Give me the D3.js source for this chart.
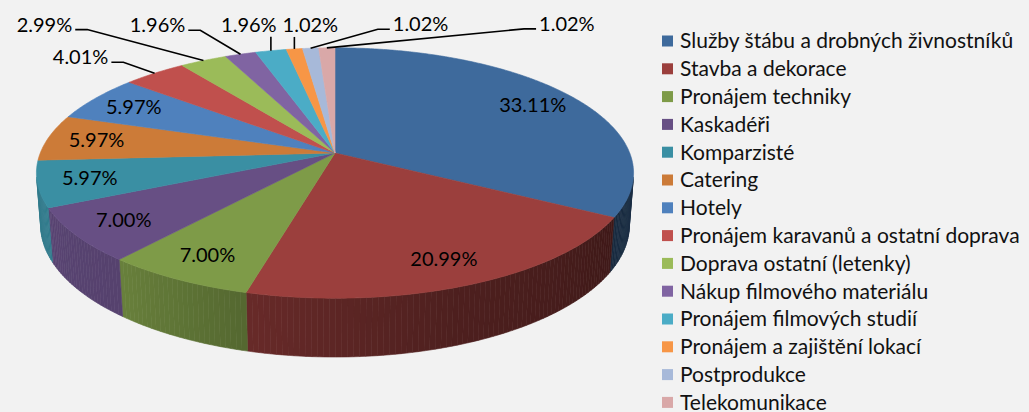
<!DOCTYPE html>
<html lang="cs">
<head>
<meta charset="UTF-8">
<title>3D pie</title>
<script src="https://cdnjs.cloudflare.com/ajax/libs/d3/7.8.5/d3.min.js"></script>
<style>
  body { margin: 0; background: #f2f2f2; }
  svg { display: block; font-family: Lato, 'Open Sans', sans-serif; }
</style>
</head>
<body>
<div id="chart"></div>
<script>
const categories = [
  'Služby štábu a drobných živnostníků',
  'Stavba a dekorace',
  'Pronájem techniky',
  'Kaskadéři',
  'Komparzisté',
  'Catering',
  'Hotely',
  'Pronájem karavanů a ostatní doprava',
  'Doprava ostatní (letenky)',
  'Nákup filmového materiálu',
  'Pronájem filmových studií',
  'Pronájem a zajištění lokací',
  'Postprodukce',
  'Telekomunikace'
];
const values = [33.11, 20.99, 7.00, 7.00, 5.97, 5.97, 5.97, 4.01, 2.99, 1.96, 1.96, 1.02, 1.02, 1.02];
const colors = ['#3e6a9c', '#9b3f3d', '#7e9b48', '#674f84', '#3a8fa3', '#cc7b38', '#4f81bd',
                '#c0504d', '#9bbb59', '#8064a2', '#4bacc6', '#f79646', '#a7b9d9', '#d9a8a8'];

const W = 1029, H = 412;
const svg = d3.select('#chart').append('svg').attr('width', W).attr('height', H);
svg.append('rect').attr('width', W).attr('height', H).attr('fill', '#f2f2f2');

// simple perspective camera looking down at the disk
const cx = 335, cy = 153, focal = 1680, dist = 5.7, depth = 0.195;
const sinE = 0.414, cosE = Math.sqrt(1 - sinE * sinE);
const rad = d => d * Math.PI / 180;
function project(deg, r, h) {
  const X = r * Math.sin(rad(deg)), Z = -r * Math.cos(rad(deg));
  const yv = Z * sinE - h * cosE;
  const zv = dist - Z * cosE - h * sinE;
  return [cx + focal * X / zv, cy + focal * yv / zv];
}

const pie = d3.pie().sort(null).value(d => d)(values);
const arcs = pie.map((p, i) => ({
  i, value: values[i],
  a0: p.startAngle * 180 / Math.PI,
  a1: p.endAngle * 180 / Math.PI
}));

const line = d3.line();
const sideShade = d3.scaleLinear()
  .domain([101, 119, 160, 195, 220, 245, 259])
  .range([0.44, 0.41, 0.5, 0.67, 0.83, 0.87, 0.85])
  .clamp(true);
const shade = (c, f) => { const r = d3.rgb(c); return d3.rgb(r.r * f, r.g * f, r.b * f).formatHex(); };

// side walls, only where they face the camera
const lo = Math.acos(-1 / (dist * cosE)) * 180 / Math.PI, hi = 360 - lo;
const walls = svg.append('g');
arcs.forEach(a => {
  const s = Math.max(a.a0, lo), e = Math.min(a.a1, hi);
  if (s >= e) return;
  const n = Math.ceil(e - s);
  for (let k = 0; k < n; k++) {
    const t0 = s + (e - s) * k / n, t1 = s + (e - s) * (k + 1) / n;
    const col = shade(colors[a.i], sideShade((t0 + t1) / 2));
    walls.append('path')
      .attr('d', line([project(t0, 1, 0), project(t1, 1, 0), project(t1, 1, -depth), project(t0, 1, -depth)]) + 'Z')
      .attr('fill', col).attr('stroke', col).attr('stroke-width', 0.6);
  }
});

// top faces
svg.append('g').selectAll('path').data(arcs).join('path')
  .attr('d', a => {
    const n = Math.max(2, Math.ceil((a.a1 - a.a0) * 2));
    const pts = [[cx, cy]];
    for (let k = 0; k <= n; k++) pts.push(project(a.a0 + (a.a1 - a.a0) * k / n, 1, 0));
    return line(pts) + 'Z';
  })
  .attr('fill', a => colors[a.i])
  .attr('stroke', a => colors[a.i])
  .attr('stroke-width', 0.6);

const fmt = d => d3.format('.2f')(d) + '%';
const labels = svg.append('g').attr('font-size', 20).attr('fill', '#000');

// inside labels
arcs.filter(a => a.value >= 5).forEach(a => {
  const p = project((a.a0 + a.a1) / 2, 0.83, 0);
  labels.append('text').attr('x', p[0]).attr('y', p[1]).attr('dy', '0.35em')
    .attr('text-anchor', 'middle').text(fmt(a.value));
});

// outside labels, offsets of the text centre from the rim anchor
const outsideOffsets = { 7: [-74, -16], 8: [-159, -36], 9: [-83, -29], 10: [-22, -26],
                         11: [16, -24], 12: [110, -24], 13: [240, -24] };
arcs.filter(a => a.value < 5).forEach(a => {
  const anc = project((a.a0 + a.a1) / 2, 1, 0);
  const off = outsideOffsets[a.i];
  const tx = anc[0] + off[0], ty = anc[1] + off[1];
  const t = labels.append('text').attr('x', tx).attr('y', ty).attr('dy', '0.35em')
    .attr('text-anchor', 'middle').text(fmt(a.value));
  const w = t.node().getComputedTextLength();
  const left = tx - w / 2, right = tx + w / 2;
  let pts;
  if (anc[0] > left + 2 && anc[0] < right - 2) {
    pts = [[anc[0], ty + 12], anc];
  } else if (anc[0] >= right - 2) {
    pts = [[right + 3, ty + 5], [right + 15, ty + 5], anc];
  } else {
    pts = [[left - 3, ty + 5], [left - 15, ty + 5], anc];
  }
  labels.append('path').attr('d', line(pts))
    .attr('fill', 'none').attr('stroke', '#000').attr('stroke-width', 1.6);
});

// legend
const legend = svg.append('g').selectAll('g').data(categories).join('g')
  .attr('transform', (d, i) => `translate(662, ${41 + i * 27.8})`);
legend.append('rect').attr('x', 0).attr('y', -5.5).attr('width', 11).attr('height', 11)
  .attr('fill', (d, i) => colors[i]);
legend.append('text').attr('x', 18).attr('dy', '0.35em').attr('font-size', 21)
  .attr('fill', '#111').text(d => d);
</script>
</body>
</html>
